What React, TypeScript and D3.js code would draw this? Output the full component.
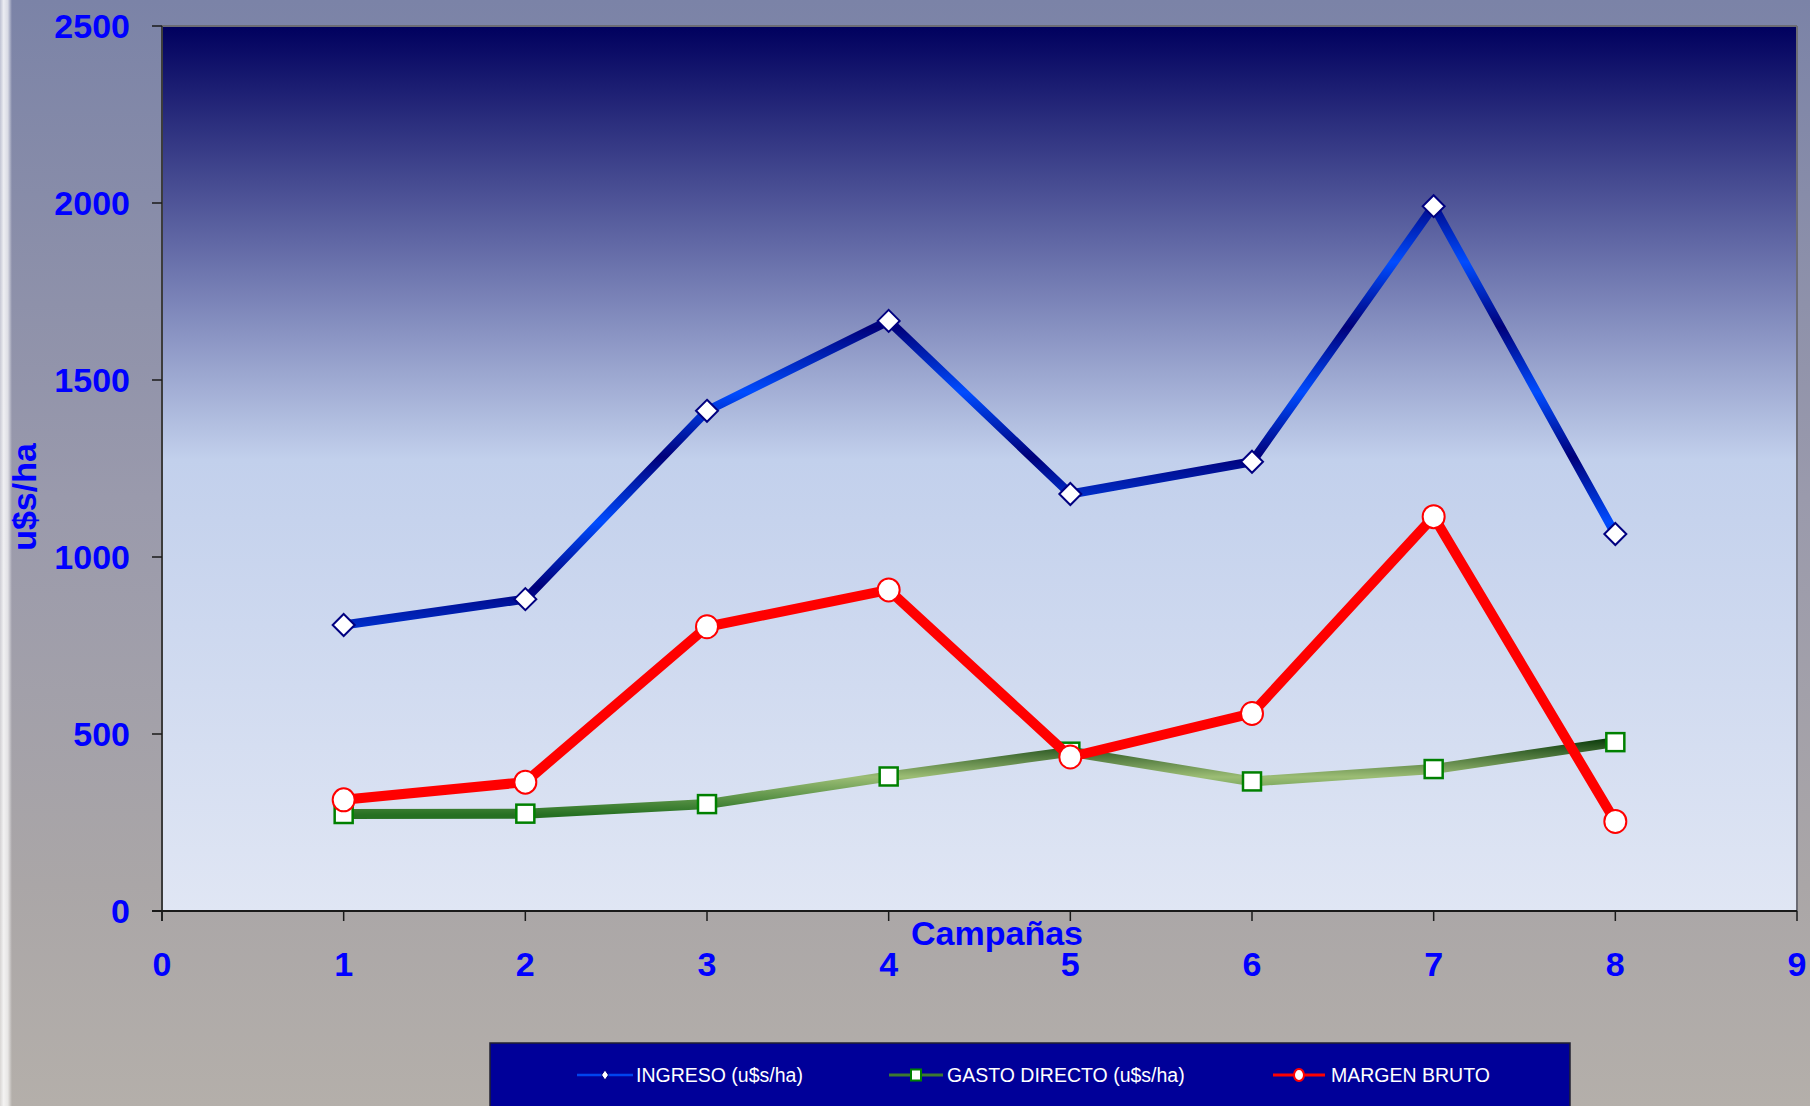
import React from "react";
import * as d3 from "d3";

const CAMPAIGNS = [1, 2, 3, 4, 5, 6, 7, 8];
const INGRESO = [808, 881, 1413, 1667, 1178, 1269, 1991, 1065];
const GASTO = [274, 275, 302, 380, 450, 366, 401, 477];
const MARGEN = [314, 364, 803, 907, 435, 558, 1114, 253];
const X_TICKS = [0, 1, 2, 3, 4, 5, 6, 7, 8, 9];
const Y_TICKS = [0, 500, 1000, 1500, 2000, 2500];
const LEGEND = ["INGRESO (u$s/ha)", "GASTO DIRECTO (u$s/ha)", "MARGEN BRUTO"];

const W = 1810;
const H = 1106;
const PL = 162, PR = 1797, PT = 26, PB = 911;
const FONT = "'Liberation Sans', Arial, Helvetica, sans-serif";
const BLUE = "#0000ff";

export default function App() {
  const x = d3.scaleLinear().domain([0, 9]).range([PL, PR]);
  const y = d3.scaleLinear().domain([0, 2500]).range([PB, PT]);
  const line = d3
    .line<number>()
    .x((_, i) => x(CAMPAIGNS[i]))
    .y((d) => y(d));

  const legendY = 1075;
  const legendItems = [
    { x0: 577, x1: 633, tx: 636, label: LEGEND[0], kind: "diamond" },
    { x0: 889, x1: 943, tx: 947, label: LEGEND[1], kind: "square" },
    { x0: 1273, x1: 1325, tx: 1331, label: LEGEND[2], kind: "circle" },
  ];

  return (
    <svg
      width={W}
      height={H}
      style={{ position: "absolute", left: 0, top: 0, display: "block" }}
      xmlns="http://www.w3.org/2000/svg"
    >
      <defs>
        <linearGradient id="bg" x1="0" y1="0" x2="0" y2="1">
          <stop offset="0" stopColor="#7b83a7" />
          <stop offset="0.45" stopColor="#9a9aac" />
          <stop offset="0.8" stopColor="#aaa6a7" />
          <stop offset="1" stopColor="#b4afaa" />
        </linearGradient>
        <linearGradient id="stripe" x1="0" y1="0" x2="1" y2="0">
          <stop offset="0" stopColor="#ffffff" stopOpacity="0.5" />
          <stop offset="0.3" stopColor="#ffffff" stopOpacity="0.85" />
          <stop offset="0.65" stopColor="#ffffff" stopOpacity="0.7" />
          <stop offset="1" stopColor="#ffffff" stopOpacity="0" />
        </linearGradient>
        <linearGradient id="plotbg" x1="0" y1="0" x2="0" y2="1">
          <stop offset="0" stopColor="#00005e" />
          <stop offset="0.49" stopColor="#c2d0ec" />
          <stop offset="1" stopColor="#e0e6f4" />
        </linearGradient>
        <linearGradient
          id="blueLine"
          gradientUnits="userSpaceOnUse"
          x1="0"
          y1={PT + 171}
          x2="0"
          y2={PT + 236}
          spreadMethod="reflect"
        >
          <stop offset="0" stopColor="#00007a" />
          <stop offset="1" stopColor="#004cff" />
        </linearGradient>
        <linearGradient
          id="greenLine"
          gradientUnits="userSpaceOnUse"
          x1="0"
          y1={PB - 172}
          x2="0"
          y2={PB - 96}
        >
          <stop offset="0" stopColor="#0c3c0c" />
          <stop offset="0.5" stopColor="#9cbd75" />
          <stop offset="1" stopColor="#267022" />
        </linearGradient>
      </defs>

      <rect x={0} y={0} width={W} height={H} fill="url(#bg)" />
      <rect x={0} y={0} width={12} height={H} fill="url(#stripe)" />

      {/* plot area */}
      <rect x={PL} y={PT} width={PR - PL} height={PB - PT} fill="url(#plotbg)" />
      <line x1={PL} y1={PT} x2={PR} y2={PT} stroke="#6c6c74" strokeWidth={2} />
      <line x1={PR} y1={PT} x2={PR} y2={PB} stroke="#6c6c74" strokeWidth={2} />

      {/* axes */}
      <line x1={PL} y1={PT} x2={PL} y2={PB + 10} stroke="#3c3c3c" strokeWidth={2} />
      <line x1={PL - 10} y1={PB} x2={PR} y2={PB} stroke="#1a1a1a" strokeWidth={2} />
      {Y_TICKS.map((t) => (
        <g key={"yt" + t}>
          <line x1={PL - 10} x2={PL} y1={y(t)} y2={y(t)} stroke="#1a1a1a" strokeWidth={1.5} />
          <text
            x={130}
            y={y(t) + 12}
            textAnchor="end"
            fontFamily={FONT}
            fontWeight="bold"
            fontSize={34}
            fill={BLUE}
          >
            {t}
          </text>
        </g>
      ))}
      {X_TICKS.map((t) => (
        <g key={"xt" + t}>
          <line x1={x(t)} x2={x(t)} y1={PB} y2={PB + 10} stroke="#1a1a1a" strokeWidth={1.5} />
          <text
            x={x(t)}
            y={976}
            textAnchor="middle"
            fontFamily={FONT}
            fontWeight="bold"
            fontSize={34}
            fill={BLUE}
          >
            {t}
          </text>
        </g>
      ))}
      <text
        x={997}
        y={945}
        textAnchor="middle"
        fontFamily={FONT}
        fontWeight="bold"
        fontSize={34}
        fill={BLUE}
      >
        Campañas
      </text>
      <text
        transform={`translate(36,497) rotate(-90)`}
        textAnchor="middle"
        fontFamily={FONT}
        fontWeight="bold"
        fontSize={34}
        fill={BLUE}
      >
        u$s/ha
      </text>

      {/* INGRESO */}
      <path
        d={line(INGRESO) || ""}
        fill="none"
        stroke="url(#blueLine)"
        strokeWidth={9}
        strokeLinejoin="round"
      />
      {INGRESO.map((v, i) => (
        <path
          key={"d" + i}
          transform={`translate(${x(CAMPAIGNS[i])},${y(v)})`}
          d="M0,-11L11,0L0,11L-11,0Z"
          fill="#ffffff"
          stroke="#000080"
          strokeWidth={2}
        />
      ))}

      {/* GASTO */}
      <path
        d={line(GASTO) || ""}
        fill="none"
        stroke="url(#greenLine)"
        strokeWidth={10}
        strokeLinejoin="round"
      />
      {GASTO.map((v, i) => (
        <rect
          key={"s" + i}
          x={x(CAMPAIGNS[i]) - 9}
          y={y(v) - 9}
          width={18}
          height={18}
          fill="#ffffff"
          stroke="#008000"
          strokeWidth={2.5}
        />
      ))}

      {/* MARGEN */}
      <path
        d={line(MARGEN) || ""}
        fill="none"
        stroke="#ff0000"
        strokeWidth={10}
        strokeLinejoin="round"
      />
      {MARGEN.map((v, i) => (
        <ellipse
          key={"c" + i}
          cx={x(CAMPAIGNS[i])}
          cy={y(v)}
          rx={11}
          ry={11.5}
          fill="#ffffff"
          stroke="#ff0000"
          strokeWidth={2}
        />
      ))}

      {/* legend */}
      <rect x={490} y={1043} width={1080} height={70} fill="#000099" stroke="#202030" strokeWidth={1.5} />
      {legendItems.map((it, i) => {
        const cx = (it.x0 + it.x1) / 2;
        return (
          <g key={"lg" + i}>
            <line
              x1={it.x0}
              x2={it.x1}
              y1={legendY}
              y2={legendY}
              stroke={i === 0 ? "#0044ee" : i === 1 ? "#3d7a30" : "#ff0000"}
              strokeWidth={i === 0 ? 2.5 : 3}
            />
            {it.kind === "diamond" && (
              <path
                transform={`translate(${cx},${legendY})`}
                d="M0,-5L3.5,0L0,5L-3.5,0Z"
                fill="#ffffff"
                stroke="#000080"
                strokeWidth={1}
              />
            )}
            {it.kind === "square" && (
              <rect
                x={cx - 5}
                y={legendY - 5.5}
                width={10}
                height={11}
                fill="#ffffff"
                stroke="#008000"
                strokeWidth={2}
              />
            )}
            {it.kind === "circle" && (
              <ellipse cx={cx} cy={legendY} rx={5} ry={6} fill="#ffffff" stroke="#ff0000" strokeWidth={2} />
            )}
            <text
              x={it.tx}
              y={legendY + 7}
              fontFamily={FONT}
              fontSize={19.5}
              fill="#ffffff"
            >
              {it.label}
            </text>
          </g>
        );
      })}
    </svg>
  );
}
